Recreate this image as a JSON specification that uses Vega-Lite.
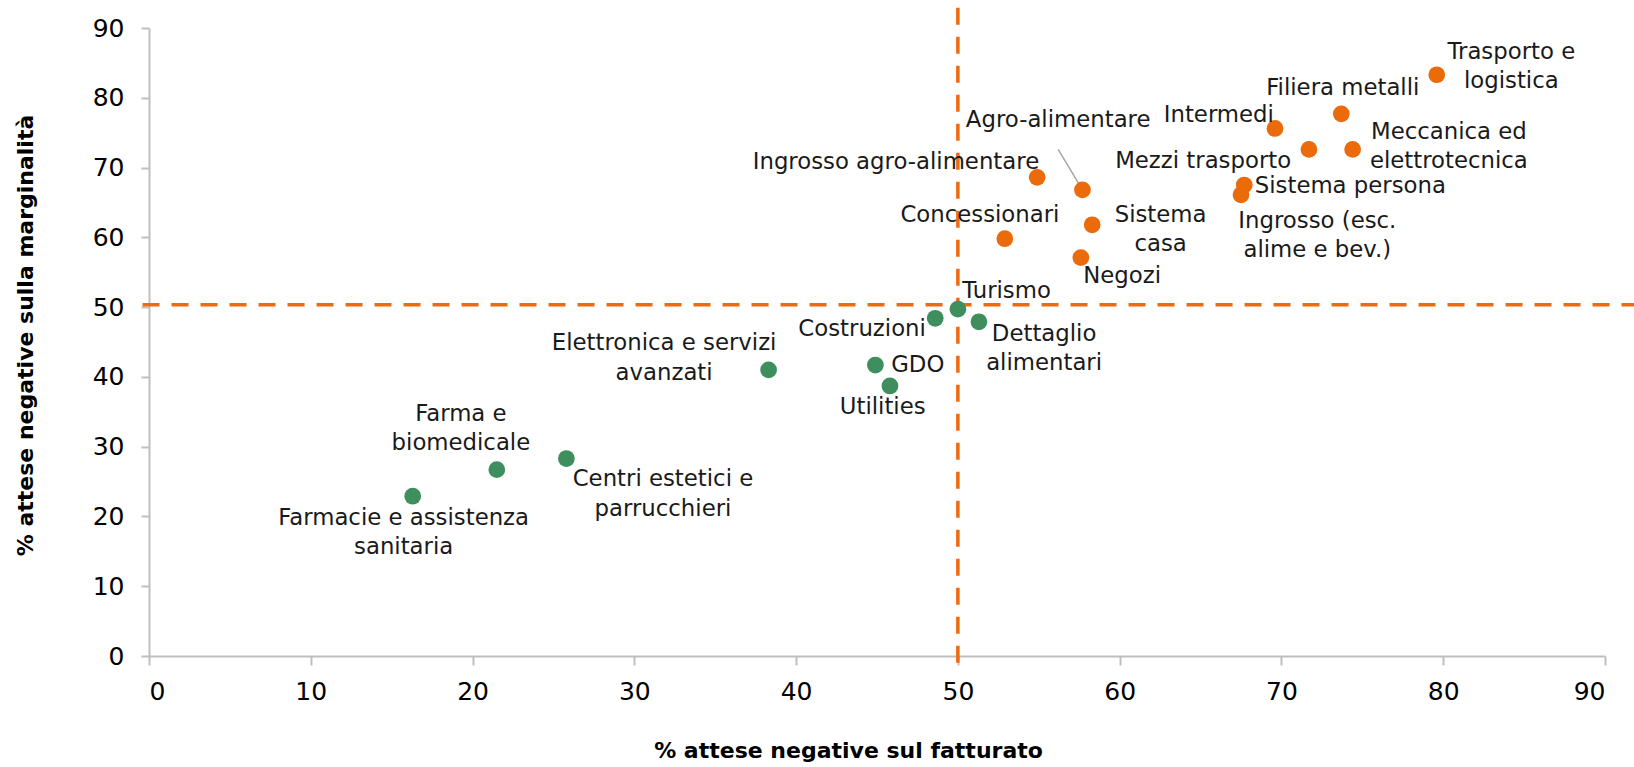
{
  "$schema": "https://vega.github.io/schema/vega-lite/v6.json",
  "width": 1456,
  "height": 628,
  "autosize": "none",
  "padding": {"left": 149, "top": 28, "right": 29, "bottom": 111},
  "background": "white",
  "config": {"view": {"stroke": null}, "font": "DejaVu Sans"},
  "datasets": {
    "pts": [
      {"settore": "Trasporto e logistica", "fatturato": 79.6, "marginalita": 83.3, "gruppo": "alto", "label": "Trasporto e\nlogistica", "lx": 84.21, "ly": 86.57},
      {"settore": "Filiera metalli", "fatturato": 73.7, "marginalita": 77.7, "gruppo": "alto", "label": "Filiera metalli", "lx": 73.79, "ly": 81.4},
      {"settore": "Intermedi", "fatturato": 69.6, "marginalita": 75.6, "gruppo": "alto", "label": "Intermedi", "lx": 66.13, "ly": 77.58},
      {"settore": "Meccanica ed elettrotecnica", "fatturato": 74.4, "marginalita": 72.6, "gruppo": "alto", "label": "Meccanica ed\nelettrotecnica", "lx": 80.35, "ly": 75.1},
      {"settore": "Mezzi trasporto", "fatturato": 71.7, "marginalita": 72.6, "gruppo": "alto", "label": "Mezzi trasporto", "lx": 65.16, "ly": 70.89},
      {"settore": "Sistema persona", "fatturato": 67.7, "marginalita": 67.5, "gruppo": "alto", "label": "Sistema persona", "lx": 74.26, "ly": 67.31},
      {"settore": "Ingrosso (esc. alime e bev.)", "fatturato": 67.5, "marginalita": 66.1, "gruppo": "alto", "label": "Ingrosso (esc.\nalime e bev.)", "lx": 72.22, "ly": 62.35},
      {"settore": "Ingrosso agro-alimentare", "fatturato": 54.9, "marginalita": 68.6, "gruppo": "alto", "label": "Ingrosso agro-alimentare", "lx": 46.17, "ly": 70.85},
      {"settore": "Agro-alimentare", "fatturato": 57.7, "marginalita": 66.8, "gruppo": "alto", "label": "Agro-alimentare", "lx": 56.2, "ly": 76.86},
      {"settore": "Concessionari", "fatturato": 52.9, "marginalita": 59.8, "gruppo": "alto", "label": "Concessionari", "lx": 51.36, "ly": 63.25},
      {"settore": "Sistema casa", "fatturato": 58.3, "marginalita": 61.8, "gruppo": "alto", "label": "Sistema\ncasa", "lx": 62.53, "ly": 63.21},
      {"settore": "Negozi", "fatturato": 57.6, "marginalita": 57.1, "gruppo": "alto", "label": "Negozi", "lx": 60.15, "ly": 54.41},
      {"settore": "Turismo", "fatturato": 50.0, "marginalita": 49.7, "gruppo": "basso", "label": "Turismo", "lx": 53.01, "ly": 52.26},
      {"settore": "Costruzioni", "fatturato": 48.6, "marginalita": 48.4, "gruppo": "basso", "label": "Costruzioni", "lx": 44.08, "ly": 46.88},
      {"settore": "Dettaglio alimentari", "fatturato": 51.3, "marginalita": 47.9, "gruppo": "basso", "label": "Dettaglio\nalimentari", "lx": 55.33, "ly": 46.16},
      {"settore": "GDO", "fatturato": 44.9, "marginalita": 41.7, "gruppo": "basso", "label": "GDO", "lx": 47.52, "ly": 41.72},
      {"settore": "Utilities", "fatturato": 45.8, "marginalita": 38.7, "gruppo": "basso", "label": "Utilities", "lx": 45.35, "ly": 35.64},
      {"settore": "Elettronica e servizi avanzati", "fatturato": 38.3, "marginalita": 41.0, "gruppo": "basso", "label": "Elettronica e servizi\navanzati", "lx": 31.84, "ly": 44.8},
      {"settore": "Farma e biomedicale", "fatturato": 21.5, "marginalita": 26.7, "gruppo": "basso", "label": "Farma e\nbiomedicale", "lx": 19.28, "ly": 34.7},
      {"settore": "Centri estetici e parrucchieri", "fatturato": 25.8, "marginalita": 28.3, "gruppo": "basso", "label": "Centri estetici e\nparrucchieri", "lx": 31.77, "ly": 25.35},
      {"settore": "Farmacie e assistenza sanitaria", "fatturato": 16.3, "marginalita": 22.9, "gruppo": "basso", "label": "Farmacie e assistenza\nsanitaria", "lx": 15.74, "ly": 19.8}
    ],
    "soglie": [
      {"x": 50, "x2": 50, "y": 92.9, "y2": -1.6},
      {"x": -0.4, "x2": 92, "y": 50.35, "y2": 50.35}
    ],
    "leader": [
      {"x": 56.2, "y": 72.6, "x2": 57.7, "y2": 66.8}
    ]
  },
  "layer": [
    {
      "data": {"name": "leader"},
      "mark": {"type": "rule", "color": "#A6A6A6", "strokeWidth": 1.5},
      "encoding": {
        "x": {"field": "x", "type": "quantitative", "scale": {"domain": [0, 90], "nice": false}},
        "y": {"field": "y", "type": "quantitative", "scale": {"domain": [0, 90], "nice": false}},
        "x2": {"field": "x2"},
        "y2": {"field": "y2"}
      }
    },
    {
      "data": {"name": "soglie"},
      "mark": {"type": "rule", "color": "#EE6A0E", "strokeWidth": 3.5, "strokeDash": [17, 12]},
      "encoding": {
        "x": {"field": "x", "type": "quantitative"},
        "y": {"field": "y", "type": "quantitative"},
        "x2": {"field": "x2"},
        "y2": {"field": "y2"}
      }
    },
    {
      "data": {"name": "pts"},
      "mark": {"type": "circle", "size": 280, "opacity": 1},
      "encoding": {
        "x": {
          "field": "fatturato", "type": "quantitative",
          "scale": {"domain": [0, 90], "nice": false},
          "axis": {
            "title": "% attese negative sul fatturato",
            "values": [0, 10, 20, 30, 40, 50, 60, 70, 80, 90],
            "grid": false,
            "domainColor": "#BFBFBF", "domainWidth": 2,
            "tickColor": "#BFBFBF", "tickWidth": 2, "tickSize": 9,
            "labelFont": "DejaVu Sans", "labelFontSize": 25, "labelColor": "#000000",
            "labelPadding": 26, "labelBaseline": "middle",
            "titleFont": "DejaVu Sans", "titleFontSize": 22, "titleFontWeight": "bold", "titleColor": "#000000",
            "titleX": 699, "titleY": 94, "titleBaseline": "middle", "titleAlign": "center", "titleAnchor": null
          }
        },
        "y": {
          "field": "marginalita", "type": "quantitative",
          "scale": {"domain": [0, 90], "nice": false},
          "axis": {
            "title": "% attese negative sulla marginalità",
            "values": [0, 10, 20, 30, 40, 50, 60, 70, 80, 90],
            "grid": false,
            "domainColor": "#BFBFBF", "domainWidth": 2,
            "tickColor": "#BFBFBF", "tickWidth": 2, "tickSize": 8,
            "labelFont": "DejaVu Sans", "labelFontSize": 25, "labelColor": "#000000",
            "labelPadding": 17,
            "titleFont": "DejaVu Sans", "titleFontSize": 22, "titleFontWeight": "bold", "titleColor": "#000000",
            "titleX": -124, "titleY": 307, "titleBaseline": "middle", "titleAlign": "center", "titleAngle": -90, "titleAnchor": null
          }
        },
        "color": {
          "field": "gruppo", "type": "nominal",
          "scale": {"domain": ["alto", "basso"], "range": ["#EB6A0A", "#3E8E5E"]},
          "legend": null
        }
      }
    },
    {
      "data": {"name": "pts"},
      "mark": {"type": "text", "font": "DejaVu Sans", "fontSize": 22.8, "color": "#1A1A1A", "align": "center", "baseline": "middle", "lineBreak": "\n", "lineHeight": 29.5},
      "encoding": {
        "x": {"field": "lx", "type": "quantitative"},
        "y": {"field": "ly", "type": "quantitative"},
        "text": {"field": "label"}
      }
    }
  ]
}
